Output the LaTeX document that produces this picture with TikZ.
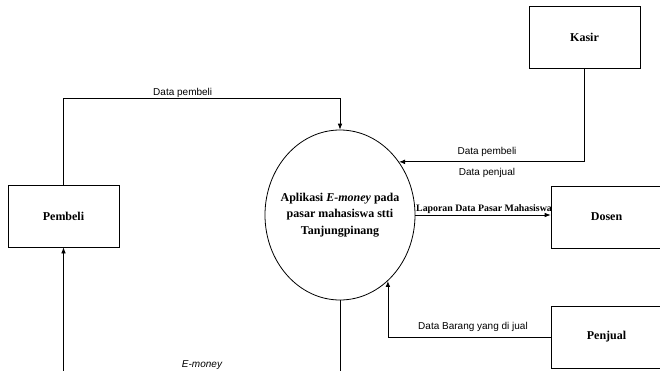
\documentclass[tikz,border=0pt]{standalone}
\usepackage{fontspec}
\setmainfont{Liberation Serif}
\newfontfamily\arial{Liberation Sans}
\usepackage{tikz}
\usetikzlibrary{arrows.meta,shapes.geometric}
\tikzset{
  kotak/.style={draw, line width=0.6pt, minimum width=83.25pt, minimum height=46.5pt,
    inner sep=0pt, font=\fontsize{9}{10}\selectfont\bfseries},
  proses/.style={draw, ellipse, line width=0.6pt, minimum width=112.5pt, minimum height=127.5pt,
    inner xsep=-8pt, inner ysep=0pt, align=center, font=\fontsize{9}{12.4}\selectfont\bfseries},
  alir/.style={font=\arial\fontsize{7.5}{8}\selectfont, inner sep=1pt},
}

\begin{document}
\begin{tikzpicture}[x=0.75pt, y=-0.75pt, >={Latex[length=4.5pt,width=3.5pt]}, line width=0.6pt]
\useasboundingbox (0,0) rectangle (660,371);
% proses
\node[proses] (app) at (340,215) {Aplikasi \textit{E-money} pada\\pasar mahasiswa stti\\Tanjungpinang};
% entitas
\node[kotak] (pembeli) at (63.5,216) {Pembeli};
\node[kotak] (kasir) at (584.5,37) {Kasir};
\node[kotak] (dosen) at (606.5,217) {Dosen};
\node[kotak] (penjual) at (606.5,337) {Penjual};
% titik belok
\coordinate (t1) at (63.5,98);
\coordinate (t2) at (340,98);
\coordinate (b1) at (340,385);
% alur data
\draw[->] (pembeli.north) -- (t1) -- (t2) -- (app.north);
\draw[->] (kasir.south) |- (app.42);
\draw[->] (app.east) -- (app.east -| dosen.west);
\draw[->] (penjual.west) -| (app.-54);
\draw[->] (app.south) -- (b1) -| (pembeli.south);
% label alur
\node[alir] (l1) at (182.7,93) {Data pembeli};
\node[alir] (l2) at (487,152) {Data pembeli};
\node[alir] (l3) at (487,173) {Data penjual};
\node[alir, font=\fontsize{7.4}{8}\selectfont\bfseries] (l4) at (484,209) {Laporan Data Pasar Mahasiswa};
\node[alir] (l5) at (473,327) {Data Barang yang di jual};
\node[alir, font=\arial\itshape\fontsize{7.5}{8}\selectfont] (l6) at (202,365) {E-money};
\end{tikzpicture}
\end{document}
